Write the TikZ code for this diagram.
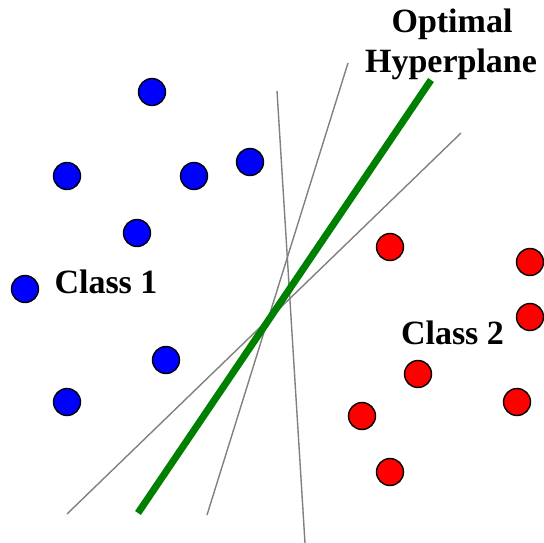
\documentclass[tikz,border=0pt]{standalone}
\usepackage{fontspec}
\setmainfont{Liberation Serif}
\begin{document}
\begin{tikzpicture}[x=1pt,y=-1pt,
  pt/.style={circle,draw=black,line width=1.4pt,minimum size=27pt,inner sep=0pt},
  blue pt/.style={pt,fill=blue},
  red pt/.style={pt,fill=red},
  grayline/.style={draw={rgb,255:red,128;green,128;blue,128},line width=1.4pt},
  optline/.style={draw={rgb,255:red,0;green,128;blue,0},line width=7pt},
  lbl/.style={inner sep=0pt,anchor=base,font=\fontsize{34}{40}\selectfont\bfseries}]
\useasboundingbox (0,0) rectangle (544,543);
% lines
\coordinate (a1) at (348,63);  \coordinate (a2) at (207,515);
\coordinate (b1) at (277,91);  \coordinate (b2) at (305,543);
\coordinate (c1) at (461,133); \coordinate (c2) at (67,514);
\coordinate (g1) at (431,80);  \coordinate (g2) at (138,513);
\draw[grayline] (a1) -- (a2);
\draw[grayline] (b1) -- (b2);
\draw[grayline] (c1) -- (c2);
\draw[optline] (g1) -- (g2);
% class 1
\node[blue pt] (p1) at (152,92) {};
\node[blue pt] (p2) at (67,176) {};
\node[blue pt] (p3) at (194,176) {};
\node[blue pt] (p4) at (250,162) {};
\node[blue pt] (p5) at (137,233) {};
\node[blue pt] (p6) at (25,289) {};
\node[blue pt] (p7) at (166,360) {};
\node[blue pt] (p8) at (67,402) {};
% class 2
\node[red pt] (q1) at (390,247) {};
\node[red pt] (q2) at (530,262) {};
\node[red pt] (q3) at (530,317) {};
\node[red pt] (q4) at (418,374) {};
\node[red pt] (q5) at (362,416) {};
\node[red pt] (q6) at (517,402) {};
\node[red pt] (q7) at (390,472) {};
% labels
\node[lbl] (t1) at (452,33) {Optimal};
\node[lbl] (t2) at (451,73) {Hyperplane};
\node[lbl] (c1l) at (106,293) {Class 1};
\node[lbl] (c2l) at (452.5,344) {Class 2};
\end{tikzpicture}
\end{document}
